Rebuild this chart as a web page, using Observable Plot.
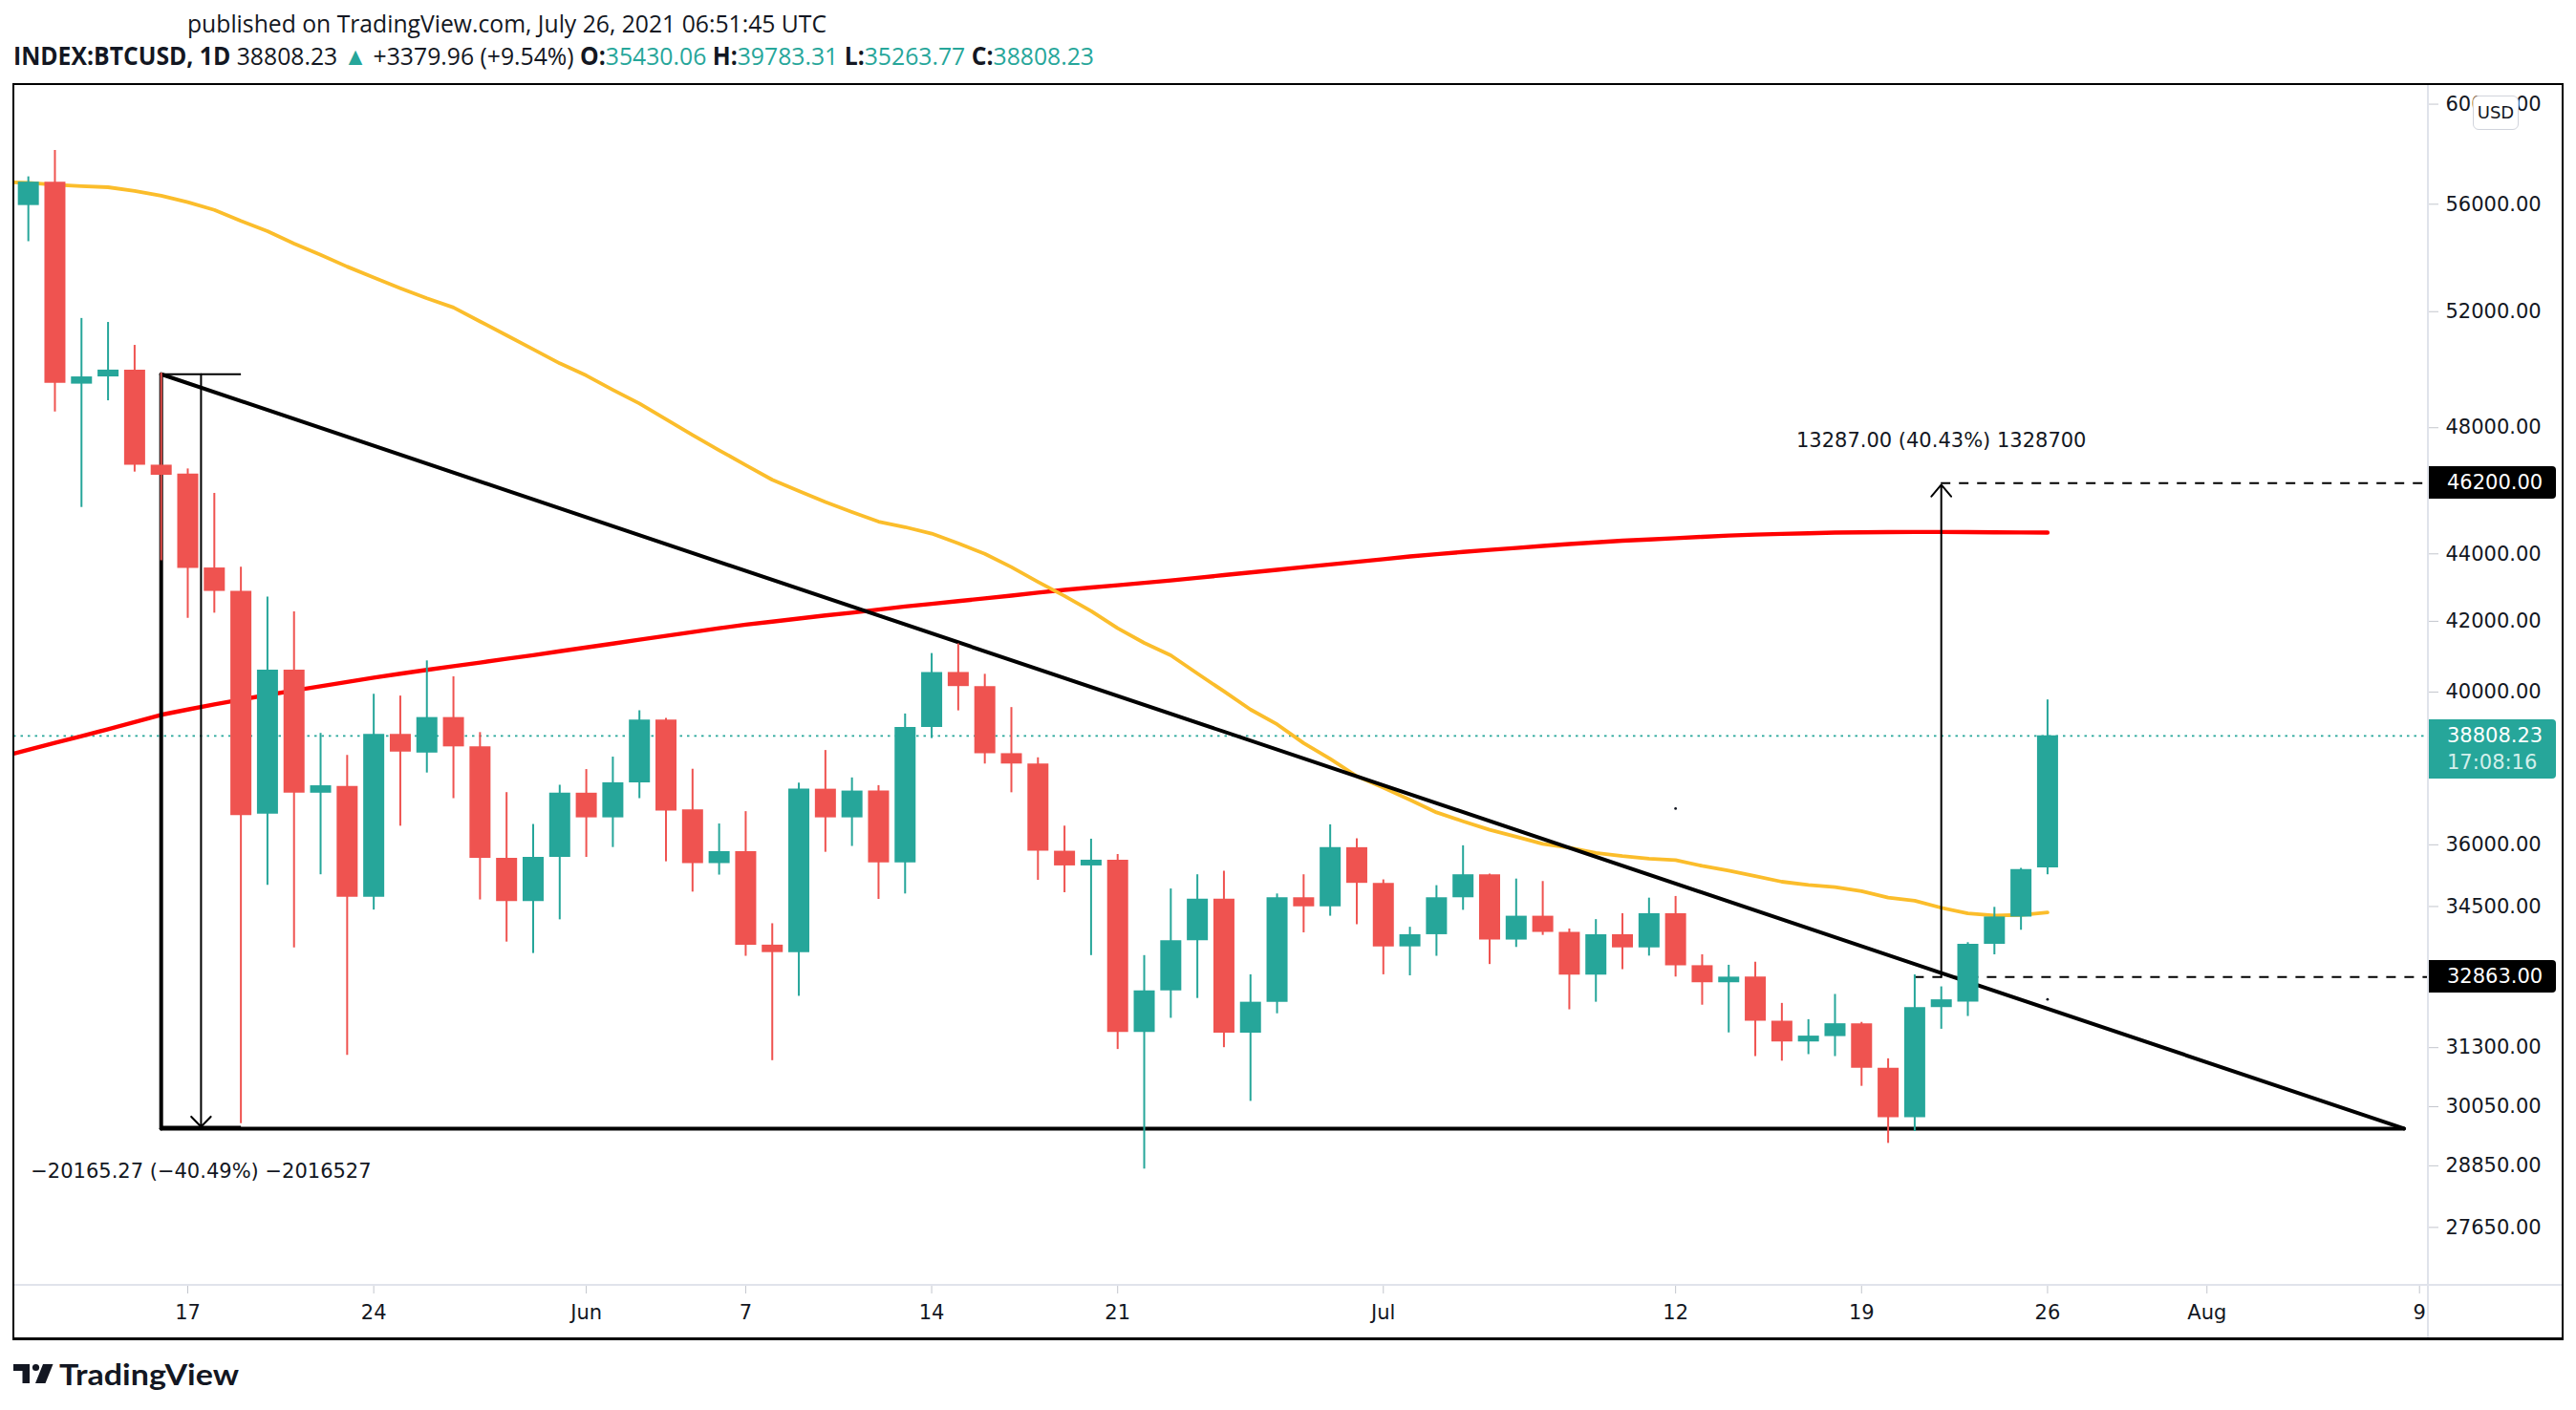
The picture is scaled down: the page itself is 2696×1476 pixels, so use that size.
<!DOCTYPE html>
<html>
<head>
<meta charset="utf-8">
<script src="https://cdn.jsdelivr.net/npm/d3@7"></script>
<script src="https://cdn.jsdelivr.net/npm/@observablehq/plot@0.6"></script>
<style>
  html, body { margin: 0; padding: 0; background: #fff; }
  body { width: 2696px; height: 1476px; position: relative; overflow: hidden; color: #131722; font-family: "Open Sans", "Liberation Sans", sans-serif; }
  #chart { position: absolute; left: 0; top: 88px; }
  .line { position: absolute; white-space: nowrap; transform-origin: 0 50%; }
  .b { font-weight: 700; }
  .t { color: #26a69a; }
  .ov { position: absolute; pointer-events: none; }
  .box { position: absolute; box-sizing: border-box; color: #fff; font-family: "DejaVu Sans", sans-serif; font-size: 21px; padding-left: 19px; border-radius: 0 4px 4px 0; white-space: nowrap; }
</style>
</head>
<body>
<div class="line" id="hdr1" style="left:196px; top:9px; font-size:25px; line-height:30px;">published on TradingView.com, July 26, 2021 06:51:45 UTC</div>
<div class="line" id="hdr2" style="left:14px; top:43px; font-size:26px; line-height:30px;"><span class="b">INDEX:BTCUSD, 1D</span> 38808.23 <span class="t">▲</span> +3379.96 (+9.54%) <span class="b">O:</span><span class="t">35430.06</span> <span class="b">H:</span><span class="t">39783.31</span> <span class="b">L:</span><span class="t">35263.77</span> <span class="b">C:</span><span class="t">38808.23</span></div>
<div id="chart"></div>
<svg class="ov" style="left:0; top:1420px;" width="60" height="40" viewBox="0 1420 60 40">
  <path d="M14 1428 H31 V1448 H23.5 V1435 H14 Z" fill="#131722"/>
  <circle cx="37.5" cy="1431.5" r="3.6" fill="#131722"/>
  <path d="M45 1428 H55.5 L47.5 1448 H37 Z" fill="#131722"/>
</svg>
<div class="line" id="footer" style="left:62px; top:1421px; font-size:31px; line-height:34px; font-weight:700; font-family:Lato, 'Open Sans', sans-serif;">TradingView</div>
<script>
// ---------------- data ----------------
const candleStart = "2021-05-11";
const open = [
  55950, 56860, 49465, 49712, 49946, 46776, 46488, 43574, 42876, 36770,
  40608, 37305, 37480, 34720, 38849, 38352, 39303, 38516, 35664, 34617,
  35689, 37305, 36676, 37574, 39232, 36879, 35537, 35831, 33593, 33421,
  37408, 36676, 37360, 35557, 39035, 40544, 40152, 38336, 38063, 35841,
  35480, 35620, 31632, 32552, 33696, 34677, 31614, 32296, 34709, 34493,
  35929, 35056, 33553, 33836, 34709, 35264, 33711, 34270, 33890, 32905,
  33836, 33530, 34330, 33120, 32733, 32860, 31876, 31423, 31540, 31820,
  30857, 29825, 32177, 32300, 33613, 34252, 35430.06
];
const high = [
  57068, 58113, 51757, 51615, 50805, 49845, 46655, 45875, 43600, 42711,
  42274, 38876, 38288, 39939, 39890, 40869, 40423, 38898, 37320, 36509,
  37510, 37918, 38245, 39488, 39280, 37927, 36521, 36833, 34093, 37565,
  38420, 37700, 37500, 39400, 41077, 41353, 40493, 39575, 38227, 36467,
  36140, 35760, 33352, 34920, 35264, 35350, 32913, 34800, 35264, 36500,
  36150, 35140, 34010, 35000, 35976, 35280, 35160, 35100, 33970, 34190,
  34330, 34700, 34740, 33370, 33130, 33200, 32270, 31910, 32470, 31850,
  31060, 32910, 32640, 33650, 34480, 35420, 39783.31
];
const low = [
  54572, 48528, 45431, 48900, 46554, 43792, 42087, 42237, 29700, 35009,
  33528, 35264, 31133, 34416, 36465, 37828, 37165, 34657, 33664, 33400,
  34185, 35689, 35933, 37165, 35581, 34845, 35256, 33336, 31020, 32428,
  35815, 35960, 34670, 34800, 38738, 39485, 38063, 37316, 35130, 34830,
  33352, 31260, 28785, 31940, 32380, 31300, 30161, 32040, 33880, 34270,
  34070, 32913, 32890, 33336, 34410, 33147, 33540, 33820, 32128, 32296,
  33030, 33340, 32862, 32230, 31620, 31108, 31010, 31150, 31108, 30476,
  29300, 29540, 31700, 31980, 33370, 33940, 35263.77
];
const close = [
  56860, 49495, 49712, 49946, 46776, 46452, 43560, 42876, 36735, 40608,
  37305, 37496, 34720, 38849, 38378, 39303, 38516, 35664, 34617, 35689,
  37305, 36676, 37574, 39232, 36848, 35537, 35831, 33593, 33421, 37408,
  36676, 37360, 35557, 39035, 40544, 40152, 38336, 38063, 35841, 35480,
  35620, 31632, 32552, 33696, 34677, 31614, 32296, 34709, 34493, 35929,
  35056, 33553, 33836, 34709, 35264, 33711, 34270, 33890, 32905, 33836,
  33530, 34330, 33120, 32733, 32860, 31876, 31423, 31550, 31820, 30857,
  29825, 32177, 32350, 33613, 34252, 35388, 38808.23
];
const maStart = "2021-05-10";
const sma50 = [
  56870, 56830, 56760, 56700, 56660, 56520, 56330, 56080, 55780, 55360,
  54970, 54500, 54080, 53640, 53240, 52850, 52480, 52150, 51650, 51160,
  50670, 50180, 49760, 49270, 48810, 48280, 47760, 47260, 46780, 46306,
  45950, 45600, 45290, 44990, 44820, 44620, 44320, 44000, 43600, 43160,
  42740, 42300, 41800, 41380, 41025, 40515, 40020, 39520, 39120, 38617,
  38200, 37745, 37450, 37136, 36814, 36590, 36376, 36200, 36024, 35930,
  35800, 35720, 35658, 35620, 35480, 35364, 35230, 35095, 35018, 34964,
  34865, 34712, 34640, 34470, 34335, 34285, 34300, 34360
];
const sma200 = [
  38250, 38440, 38620, 38800, 38990, 39180, 39377, 39520, 39660, 39790,
  39920, 40040, 40160, 40280, 40400, 40510, 40617, 40720, 40820, 40930,
  41030, 41140, 41250, 41360, 41470, 41580, 41690, 41800, 41903, 41990,
  42080, 42170, 42250, 42340, 42430, 42510, 42590, 42670, 42750, 42840,
  42920, 42990, 43060, 43130, 43200, 43280, 43360, 43440, 43520, 43600,
  43680, 43760, 43840, 43920, 43990, 44060, 44120, 44180, 44240, 44300,
  44350, 44400, 44440, 44480, 44520, 44560, 44590, 44610, 44630, 44650,
  44660, 44665, 44670, 44670, 44665, 44660, 44655, 44650
];
const yTickValues = [27650, 28850, 30050, 31300, 34500, 36000, 40000, 42000, 44000, 48000, 52000, 56000, 60000];
const xTickDates = ["2021-05-17", "2021-05-24", "2021-06-01", "2021-06-07", "2021-06-14", "2021-06-21", "2021-07-01", "2021-07-12", "2021-07-19", "2021-07-26", "2021-08-01", "2021-08-09"];
const xTickLabels = ["17", "24", "Jun", "7", "14", "21", "Jul", "12", "19", "26", "Aug", "9"];
const lastPrice = 38808.23;
const countdown = "17:08:16";
const levelLines = [{price: 46200, from: "2021-07-22"}, {price: 32863, from: "2021-07-21"}];
const triangle = {apexDate: "2021-05-16", apexPrice: 49803.5, endDate: "2021-08-08T10:00:00Z", base: 29600};
const downRange = {start: "2021-05-16", end: "2021-05-19", mid: "2021-05-17T12:00:00Z", top: 49803.5, bottom: 29638, label: "−20165.27 (−40.49%) −2016527"};
const upRange = {date: "2021-07-22", from: 32863, to: 46150, label: "13287.00 (40.43%) 1328700"};
const strayDots = [{date: "2021-07-12", price: 36910}, {date: "2021-07-26", price: 32360}];

// ---------------- build ----------------
const UP = "#26a69a", DOWN = "#ef5350";
const day = 864e5;
const ref = Date.UTC(2021, 4, 17);
const xDomain = [new Date(ref - 6.5454 * day), new Date(ref + 84.334 * day)];
const yDomain = [26567, 60819];
const D = s => new Date(s);

const candles = open.map((o, i) => ({date: d3.utcDay.offset(D(candleStart), i), open: o, high: high[i], low: low[i], close: close[i]}));
const upC = candles.filter(d => d.close >= d.open);
const downC = candles.filter(d => d.close < d.open);
const ma50 = sma50.map((v, i) => ({date: d3.utcDay.offset(D(maStart), i), v}));
const ma200 = sma200.map((v, i) => ({date: d3.utcDay.offset(D(maStart), i), v}));
const labelMap = new Map(xTickDates.map((d, i) => [+D(d), xTickLabels[i]]));

const triSegs = [
  {x1: D(triangle.apexDate), y1: triangle.apexPrice, x2: D(triangle.endDate), y2: triangle.base},
  {x1: D(triangle.apexDate), y1: triangle.base, x2: D(triangle.endDate), y2: triangle.base},
  {x1: D(triangle.apexDate), y1: triangle.apexPrice, x2: D(triangle.apexDate), y2: triangle.base}
];
const rangeSegs = [
  {x1: D(downRange.start), y1: downRange.top, x2: D(downRange.end), y2: downRange.top},
  {x1: D(downRange.start), y1: downRange.bottom, x2: D(downRange.end), y2: downRange.bottom}
];
const font = "'DejaVu Sans', sans-serif";

const chart = Plot.plot({
  width: 2696, height: 1313,
  marginLeft: 14, marginRight: 155, marginTop: 0, marginBottom: 56,
  style: {fontFamily: font, fontSize: "21px", color: "#131722", background: "transparent", overflow: "visible"},
  x: {type: "utc", domain: xDomain, label: null},
  y: {type: "log", domain: yDomain, label: null},
  marks: [
    Plot.axisY(yTickValues, {anchor: "right", label: null, tickSize: 10, tickPadding: 8, tickFormat: d => d.toFixed(2), stroke: "#c3c6cd", fill: "#131722", fontSize: 21, fontFamily: font}),
    Plot.axisX(xTickDates.map(D), {anchor: "bottom", label: null, tickSize: 9, tickPadding: 12, tickFormat: d => labelMap.get(+d), stroke: "#c3c6cd", fill: "#131722", fontSize: 21, fontFamily: font}),
    Plot.ruleY([lastPrice], {stroke: UP, strokeWidth: 1.6, strokeDasharray: "2.5,5"}),
    Plot.line(ma200, {x: "date", y: "v", stroke: "#ff0000", strokeWidth: 4.4, clip: true}),
    Plot.line(ma50, {x: "date", y: "v", stroke: "#fbbd2b", strokeWidth: 3.8, clip: true}),
    Plot.link(triSegs, {x1: "x1", y1: "y1", x2: "x2", y2: "y2", stroke: "#000", strokeWidth: 4, strokeLinecap: "round"}),
    Plot.link(rangeSegs, {x1: "x1", y1: "y1", x2: "x2", y2: "y2", stroke: "#000", strokeWidth: 2}),
    Plot.arrow([downRange], {x1: d => D(d.mid), y1: "top", x2: d => D(d.mid), y2: "bottom", stroke: "#000", strokeWidth: 2, headAngle: 88, headLength: 11}),
    Plot.arrow([upRange], {x1: d => D(d.date), y1: "from", x2: d => D(d.date), y2: "to", stroke: "#000", strokeWidth: 2, headAngle: 80, headLength: 12}),
    Plot.ruleY(levelLines, {y: "price", x1: d => D(d.from), x2: () => xDomain[1], stroke: "#000", strokeWidth: 2, strokeDasharray: "10,9"}),
    Plot.ruleX(upC, {x: "date", y1: "low", y2: "high", stroke: UP, strokeWidth: 2}),
    Plot.ruleX(downC, {x: "date", y1: "low", y2: "high", stroke: DOWN, strokeWidth: 2}),
    Plot.ruleX(upC, {x: "date", y1: "open", y2: "close", stroke: UP, strokeWidth: 22}),
    Plot.ruleX(downC, {x: "date", y1: "open", y2: "close", stroke: DOWN, strokeWidth: 22}),
    Plot.text([upRange], {x: d => D(d.date), y: "to", text: "label", dy: -46, fontSize: 21, fontFamily: font, fill: "#131722"}),
    Plot.text([downRange], {x: d => D(d.mid), y: "bottom", text: "label", dy: 47, fontSize: 21, fontFamily: font, fill: "#131722"}),
    Plot.dot(strayDots, {x: d => D(d.date), y: "price", r: 1.4, fill: "#131722", stroke: null})
  ]
});
document.getElementById("chart").appendChild(chart);

// ---------------- overlays positioned through the y scale ----------------
const ys = chart.scale("y");
const TOP = 88;
function addDiv(style, html) {
  const el = document.createElement("div");
  el.style.cssText = style;
  if (html) el.innerHTML = html;
  document.body.appendChild(el);
  return el;
}
// separators
addDiv("position:absolute;left:14px;top:1344px;width:2668px;height:2px;background:#e0e3eb;");
addDiv("position:absolute;left:2540px;top:88px;width:2px;height:1313px;background:#e0e3eb;");
// level price boxes
for (const l of levelLines) {
  const y = TOP + ys.apply(l.price);
  const b = addDiv(`left:2542px;top:${y - 17}px;width:133px;height:34px;line-height:34px;background:#000;`, l.price.toFixed(2));
  b.className = "box";
}
{
  const y = TOP + ys.apply(lastPrice);
  const b = addDiv(`left:2542px;top:${y - 17}px;width:133px;height:62px;padding-top:3px;line-height:28px;background:${UP};`,
    `${lastPrice.toFixed(2)}<br><span style="color:#d3efeb">${countdown}</span>`);
  b.className = "box";
}
// currency badge (sits over the top tick label, as in the original screenshot)
addDiv("position:absolute;left:2588px;top:100px;width:48px;height:36px;box-sizing:border-box;border:1.5px solid #d1d4dc;border-radius:6px;background:#fff;font-family:'DejaVu Sans',sans-serif;font-size:18px;line-height:33px;text-align:center;color:#131722;", "USD");
// outer frame
addDiv("position:absolute;left:13px;top:87px;width:2670px;height:1316px;box-sizing:border-box;border:2px solid #000;border-bottom-width:3px;pointer-events:none;");

// fit header/footer text widths
function fit(id, w) {
  const el = document.getElementById(id);
  const r = el.getBoundingClientRect().width;
  el.style.transform = `scaleX(${w / r})`;
}
fit("hdr1", 669);
fit("hdr2", 1131);
fit("footer", 188);
</script>
</body>
</html>
